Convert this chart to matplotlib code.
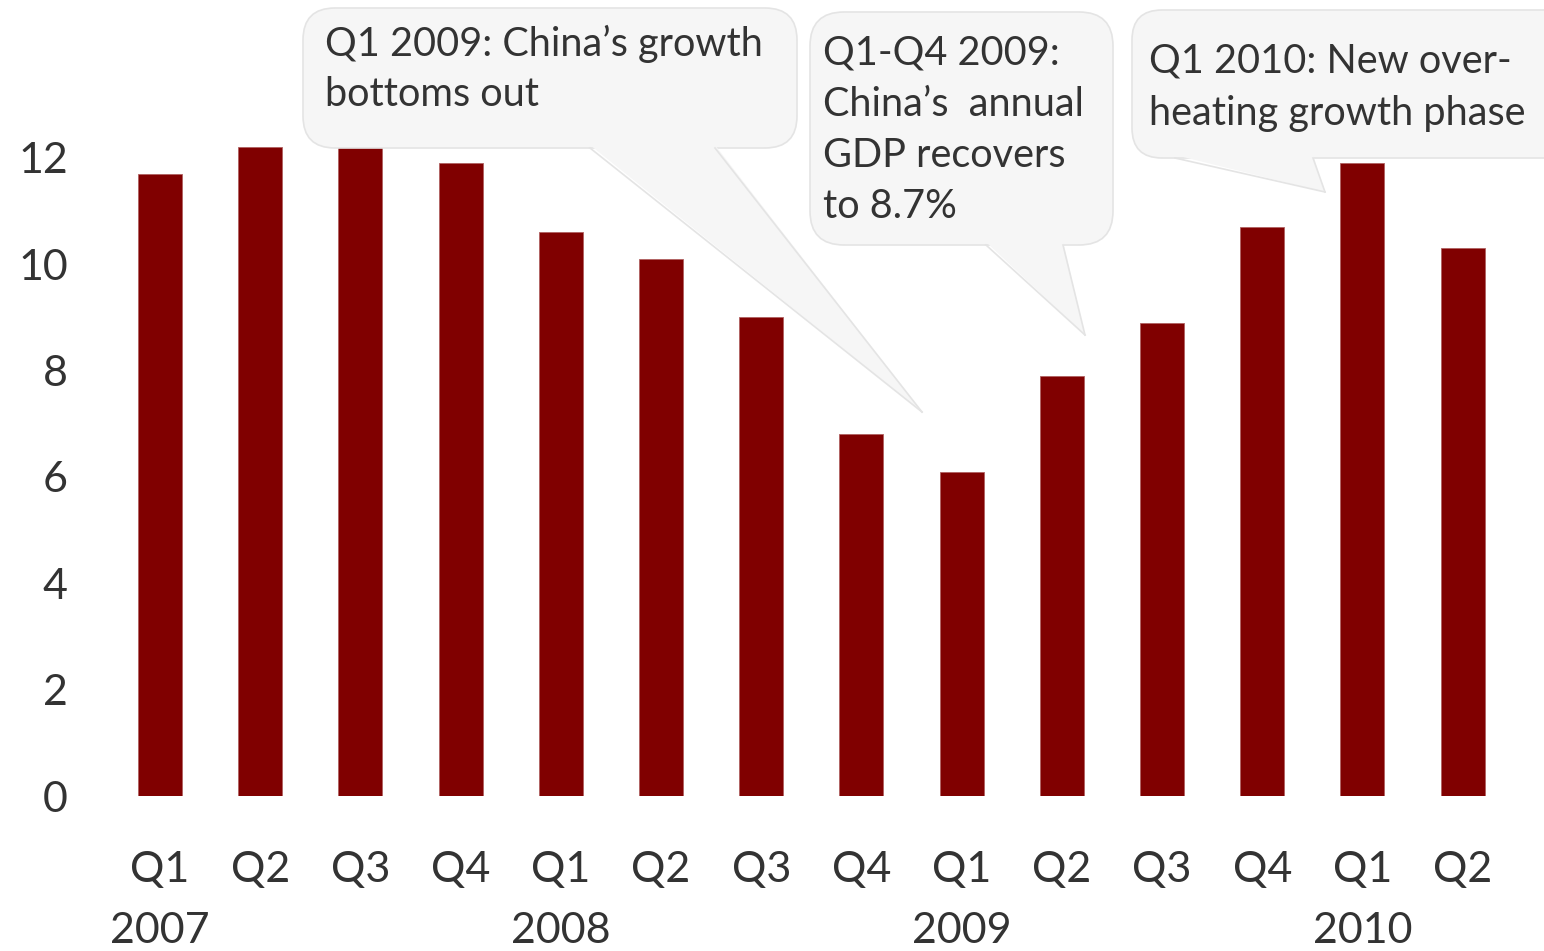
import matplotlib
matplotlib.use("Agg")
import matplotlib.pyplot as plt
from matplotlib.patches import FancyBboxPatch, Polygon
from matplotlib.lines import Line2D
from matplotlib.transforms import Affine2D

# ---------------- data ----------------
quarters = ["Q1", "Q2", "Q3", "Q4", "Q1", "Q2", "Q3", "Q4",
            "Q1", "Q2", "Q3", "Q4", "Q1", "Q2"]
years = ["2007", "2008", "2009", "2010"]
year_index = [0, 4, 8, 12]
gdp_growth = [11.7, 12.2, 12.2, 11.9, 10.6, 10.1, 9.0, 6.8,
              6.1, 7.9, 8.9, 10.7, 11.9, 10.3]
yticks = [0, 2, 4, 6, 8, 10, 12]
callout_1 = "Q1 2009: China\u2019s growth\nbottoms out"
callout_2 = "Q1-Q4 2009:\nChina\u2019s  annual\nGDP recovers\nto 8.7%"
callout_3 = "Q1 2010: New over-\nheating growth phase"

# ---------------- style ----------------
W, H, DPI = 1544, 951, 100
FONT = ["Lato", "DejaVu Sans"]
plt.rcParams["font.family"] = FONT
TXT = "#333333"
BAR = "#800000"
BFILL = "#f6f6f6"
BEDGE = "#e4e4e4"

fig = plt.figure(figsize=(W / DPI, H / DPI), dpi=DPI)
fig.patch.set_facecolor("white")

# axes geometry (pixels): x=0 -> 160px, 100.2 px per bar; y=0 -> 796px, 53.17 px/unit
x0px, dxpx = 160.0, 100.2
y0px, dypx = 796.0, 53.17
xlo, xhi = -0.6, 13.6
left_px = x0px + xlo * dxpx
width_px = (xhi - xlo) * dxpx
ytop = y0px / dypx
ax = fig.add_axes([left_px / W, (H - y0px) / H, width_px / W, y0px / H])
ax.set_xlim(xlo, xhi)
ax.set_ylim(0, ytop)
for s in ax.spines.values():
    s.set_visible(False)
ax.set_facecolor("none")

xs = list(range(len(gdp_growth)))
ax.bar(xs, gdp_growth, width=0.44, color=BAR, edgecolor="#b06060", linewidth=0.6, zorder=2)

ax.set_yticks(yticks)
ax.set_yticklabels([str(t) for t in yticks])
ax.tick_params(axis="y", length=0, pad=23, labelsize=31, labelcolor=TXT)
ax.set_xticks([])

# category labels below the axis
q_y = (y0px - 882) / dypx
yr_y = (y0px - 943) / dypx
for i, q in enumerate(quarters):
    ax.text(i, q_y, q, ha="center", va="baseline", fontsize=31, color=TXT, clip_on=False)
for i, yr in zip(year_index, years):
    ax.text(i, yr_y, yr, ha="center", va="baseline", fontsize=31, color=TXT, clip_on=False)

# ---------------- speech bubbles (pixel coords, y from top) ----------------
T = Affine2D().scale(1 / DPI, -1 / DPI).translate(0, H / DPI) + fig.dpi_scale_trans


def bubble(x1, y1, x2, y2, rad, base_l, base_r, tip, text, tx, ty0, dy, fs):
    box = FancyBboxPatch((x1, y1), x2 - x1, y2 - y1,
                         boxstyle=f"round,pad=0,rounding_size={rad}",
                         transform=T, facecolor=BFILL, edgecolor=BEDGE,
                         linewidth=1.2, zorder=5)
    fig.add_artist(box)
    by = y2
    tail = Polygon([(base_l, by - 3), (base_r, by - 3), tip], closed=True,
                   transform=T, facecolor=BFILL, edgecolor="none", zorder=6)
    fig.add_artist(tail)
    for bx in (base_l, base_r):
        fig.add_artist(Line2D([bx, tip[0]], [by, tip[1]], transform=T,
                              color=BEDGE, linewidth=1.2, zorder=7))
    for k, line in enumerate(text.split("\n")):
        fig.text(tx / W, 1 - (ty0 + k * dy) / H, line, ha="left", va="baseline",
                 fontsize=fs, color=TXT, zorder=8)


bubble(303, 8, 797, 148, 32, 590, 715, (922, 412), callout_1, 325, 56, 50, 28.5)
bubble(810, 12, 1113, 245, 34, 986, 1063, (1085, 335), callout_2, 823, 64, 51.5, 28.5)
bubble(1132, 10, 1600, 158, 30, 1175, 1313, (1325, 192), callout_3, 1149, 73, 52, 28.5)

fig.savefig("out.png", dpi=DPI, facecolor="white")
